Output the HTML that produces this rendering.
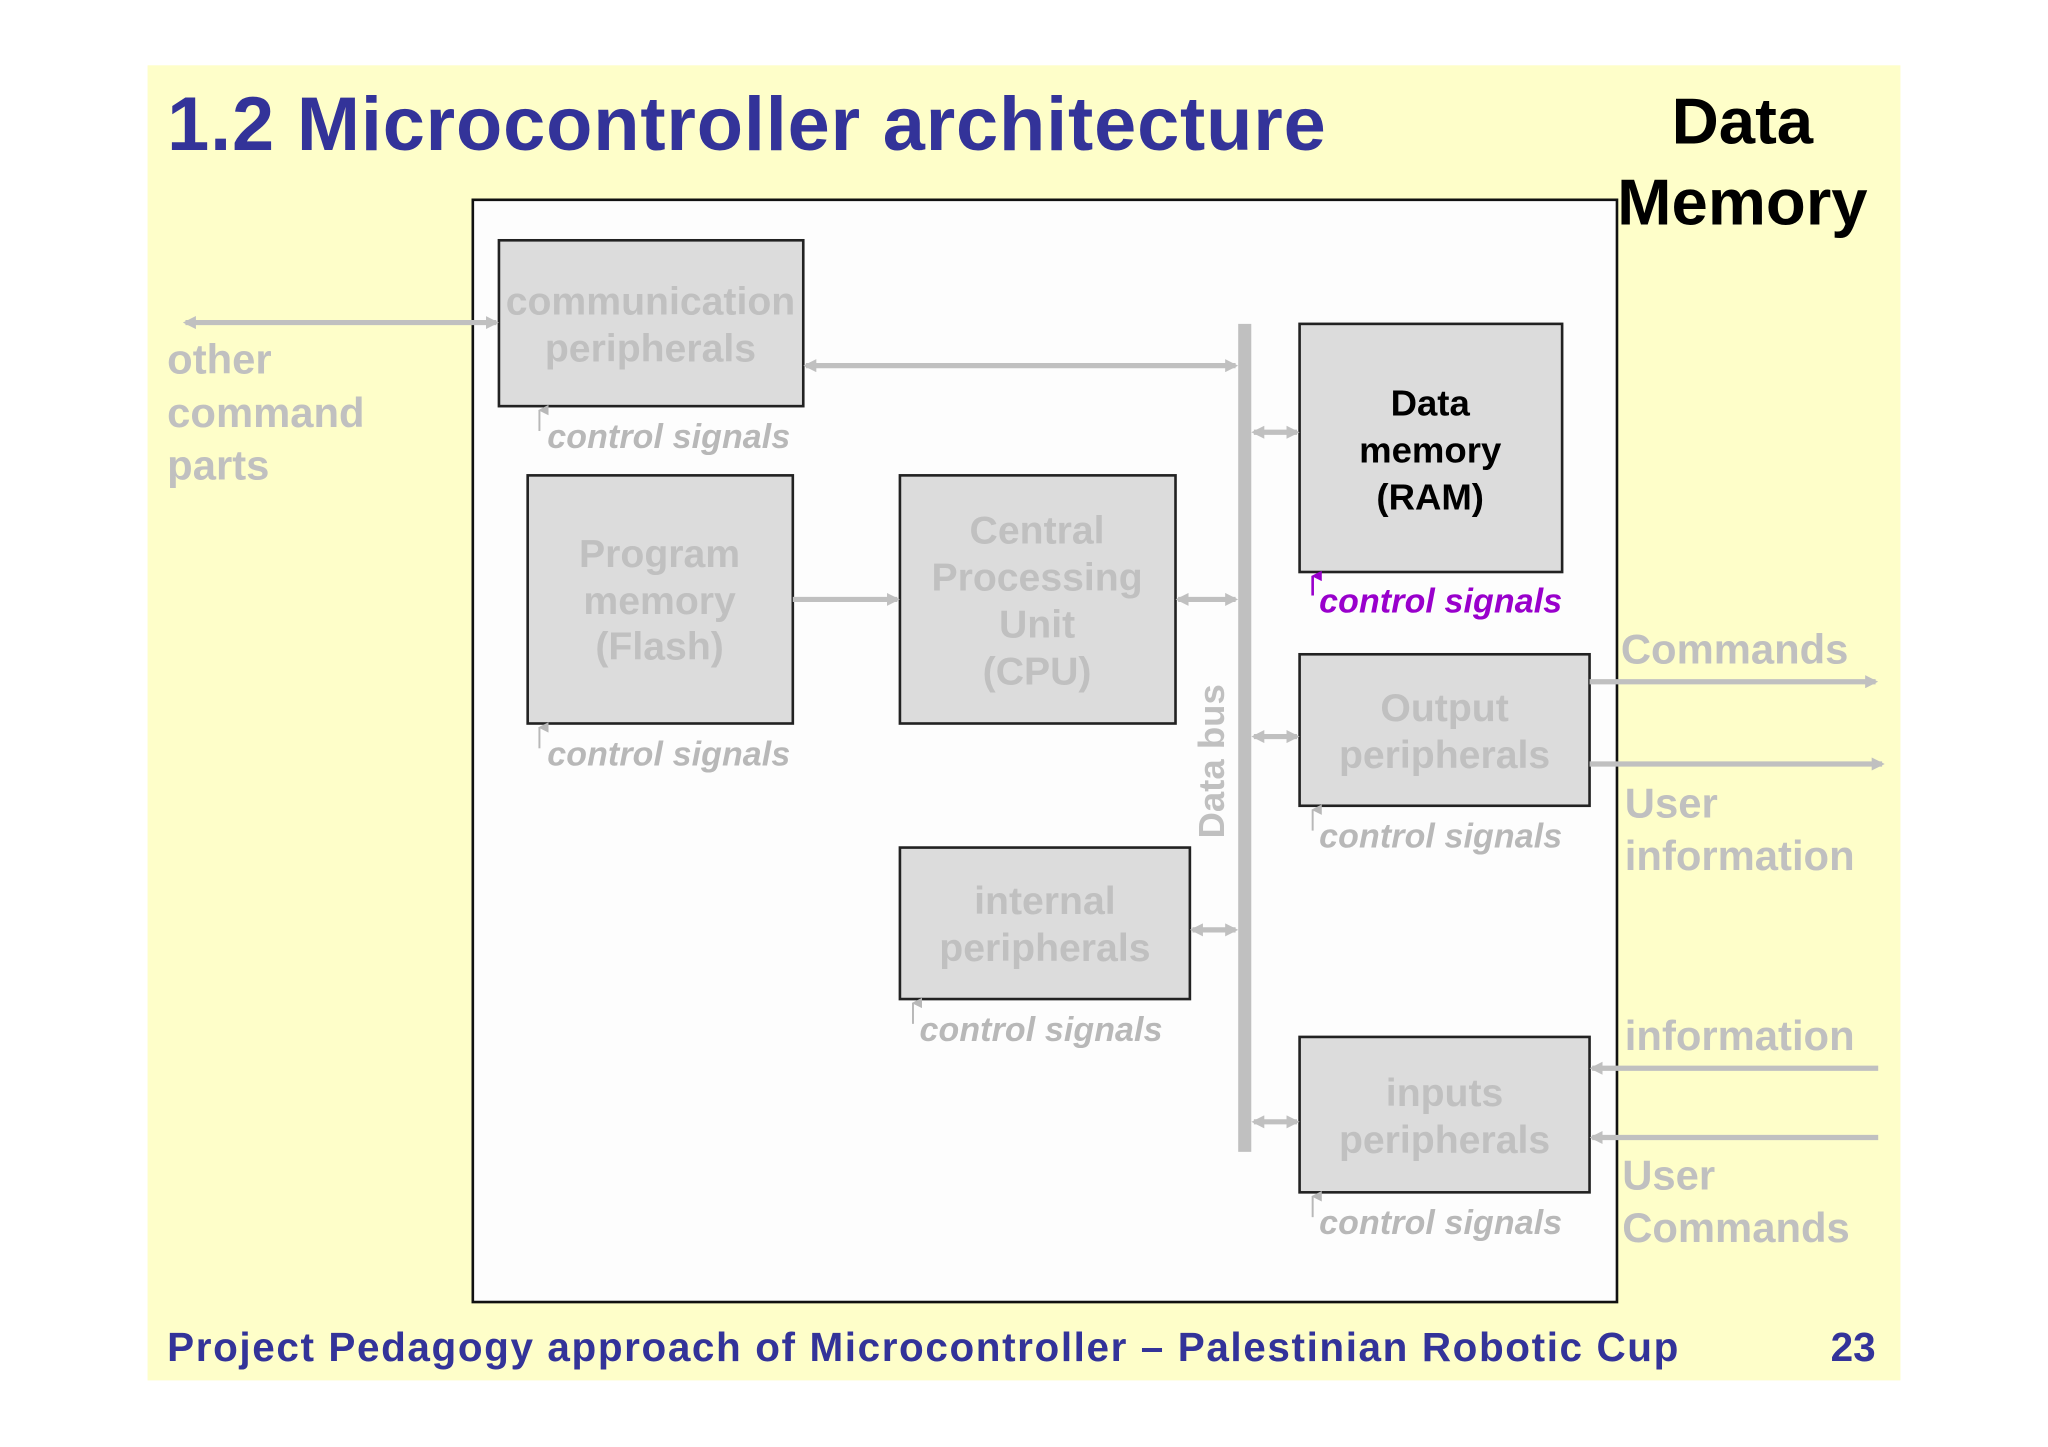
<!DOCTYPE html>
<html><head><meta charset="utf-8"><style>
html,body{margin:0;padding:0;background:#fff;width:2048px;height:1447px;overflow:hidden}
svg{display:block}
text{font-family:"Liberation Sans",Arial,sans-serif;font-weight:bold}
.g{fill:#c0c0c0;font-size:30px;text-anchor:middle}
.s{fill:#c0c0c0;font-size:32px}
.cs{fill:#b8b8b8;font-size:26px;font-style:italic}
.box{fill:#dcdcdc;stroke:#222;stroke-width:2}
.ln{stroke:#c0c0c0;stroke-width:4;fill:none}
</style></head><body>
<svg width="2048" height="1447" viewBox="0 0 1568 1108" preserveAspectRatio="none" xmlns="http://www.w3.org/2000/svg">
<defs>
<marker id="a" markerWidth="10" markerHeight="10" refX="8" refY="5" orient="auto-start-reverse" markerUnits="userSpaceOnUse"><path d="M0,0 L10,5 L0,10 Z" fill="#c0c0c0"/></marker>
<marker id="u" markerWidth="8" markerHeight="8" refX="4" refY="1" orient="auto" markerUnits="userSpaceOnUse"><path d="M0,8 L4,0 L8,8 Z" fill="#b8b8b8"/></marker>
<marker id="p" markerWidth="8" markerHeight="8" refX="4" refY="1" orient="auto" markerUnits="userSpaceOnUse"><path d="M0,8 L4,0 L8,8 Z" fill="#9900cc"/></marker>
</defs>
<rect x="113" y="50" width="1342" height="1007" fill="#fefec9"/>
<text x="128" y="115" font-size="58" fill="#333399" textLength="887">1.2 Microcontroller architecture</text>
<rect x="362" y="153" width="876" height="844" fill="#fdfdfd" stroke="#111" stroke-width="2"/>
<text x="1334" y="110" font-size="50" fill="#000" text-anchor="middle">Data</text>
<text x="1334" y="172" font-size="50" fill="#000" text-anchor="middle">Memory</text>

<rect class="box" x="382" y="184" width="233" height="127"/>
<text class="g" x="498" y="241">communication</text><text class="g" x="498" y="277">peripherals</text>
<rect class="box" x="404" y="364" width="203" height="190"/>
<text class="g" x="505" y="434">Program</text><text class="g" x="505" y="470">memory</text><text class="g" x="505" y="505">(Flash)</text>
<rect class="box" x="689" y="364" width="211" height="190"/>
<text class="g" x="794" y="416">Central</text><text class="g" x="794" y="452">Processing</text><text class="g" x="794" y="488">Unit</text><text class="g" x="794" y="524">(CPU)</text>
<rect class="box" x="995" y="248" width="201" height="190"/>
<text x="1095" y="318" font-size="28" fill="#000" text-anchor="middle">Data</text><text x="1095" y="354" font-size="28" fill="#000" text-anchor="middle">memory</text><text x="1095" y="390" font-size="28" fill="#000" text-anchor="middle">(RAM)</text>
<rect class="box" x="995" y="501" width="222" height="116"/>
<text class="g" x="1106" y="552">Output</text><text class="g" x="1106" y="588">peripherals</text>
<rect class="box" x="689" y="649" width="222" height="116"/>
<text class="g" x="800" y="700">internal</text><text class="g" x="800" y="736">peripherals</text>
<rect class="box" x="995" y="794" width="222" height="119"/>
<text class="g" x="1106" y="847">inputs</text><text class="g" x="1106" y="883">peripherals</text>

<rect x="948" y="248" width="10" height="634" fill="#c0c0c0"/>
<text transform="translate(937,583) rotate(-90)" font-size="28" fill="#c0c0c0" text-anchor="middle">Data bus</text>

<line class="ln" x1="142" y1="247" x2="380" y2="247" marker-start="url(#a)" marker-end="url(#a)"/>
<line class="ln" x1="617" y1="280" x2="946" y2="280" marker-start="url(#a)" marker-end="url(#a)"/>
<line class="ln" x1="607" y1="459" x2="687" y2="459" marker-end="url(#a)"/>
<line class="ln" x1="902" y1="459" x2="946" y2="459" marker-start="url(#a)" marker-end="url(#a)"/>
<line class="ln" x1="960" y1="331" x2="993" y2="331" marker-start="url(#a)" marker-end="url(#a)"/>
<line class="ln" x1="960" y1="564" x2="993" y2="564" marker-start="url(#a)" marker-end="url(#a)"/>
<line class="ln" x1="913" y1="712" x2="946" y2="712" marker-start="url(#a)" marker-end="url(#a)"/>
<line class="ln" x1="960" y1="859" x2="993" y2="859" marker-start="url(#a)" marker-end="url(#a)"/>
<line class="ln" x1="1217" y1="522" x2="1436" y2="522" marker-end="url(#a)"/>
<line class="ln" x1="1217" y1="585" x2="1441" y2="585" marker-end="url(#a)"/>
<line class="ln" x1="1438" y1="818" x2="1219" y2="818" marker-end="url(#a)"/>
<line class="ln" x1="1438" y1="871" x2="1219" y2="871" marker-end="url(#a)"/>

<g stroke="#b8b8b8" stroke-width="1.5">
<line x1="413" y1="330" x2="413" y2="314" marker-end="url(#u)"/>
<line x1="413" y1="573" x2="413" y2="557" marker-end="url(#u)"/>
<line x1="1005" y1="636" x2="1005" y2="620" marker-end="url(#u)"/>
<line x1="699" y1="784" x2="699" y2="768" marker-end="url(#u)"/>
<line x1="1005" y1="932" x2="1005" y2="916" marker-end="url(#u)"/>
</g>
<line x1="1005" y1="456" x2="1005" y2="441" stroke="#9900cc" stroke-width="2" marker-end="url(#p)"/>
<text class="cs" x="419" y="343" textLength="186">control signals</text>
<text class="cs" x="419" y="586" textLength="186">control signals</text>
<text class="cs" x="1010" y="469" style="fill:#9900cc" textLength="186">control signals</text>
<text class="cs" x="1010" y="649" textLength="186">control signals</text>
<text class="cs" x="704" y="797" textLength="186">control signals</text>
<text class="cs" x="1010" y="945" textLength="186">control signals</text>

<text class="s" x="128" y="286">other</text><text class="s" x="128" y="327">command</text><text class="s" x="128" y="367">parts</text>
<text class="s" x="1241" y="508">Commands</text>
<text class="s" x="1244" y="626">User</text><text class="s" x="1244" y="666">information</text>
<text class="s" x="1244" y="804">information</text>
<text class="s" x="1242" y="911">User</text><text class="s" x="1242" y="951">Commands</text>

<text x="128" y="1042" font-size="31" fill="#333399" textLength="1157">Project Pedagogy approach of Microcontroller – Palestinian Robotic Cup</text>
<text x="1436" y="1042" font-size="31" fill="#333399" text-anchor="end">23</text>
</svg>
</body></html>
